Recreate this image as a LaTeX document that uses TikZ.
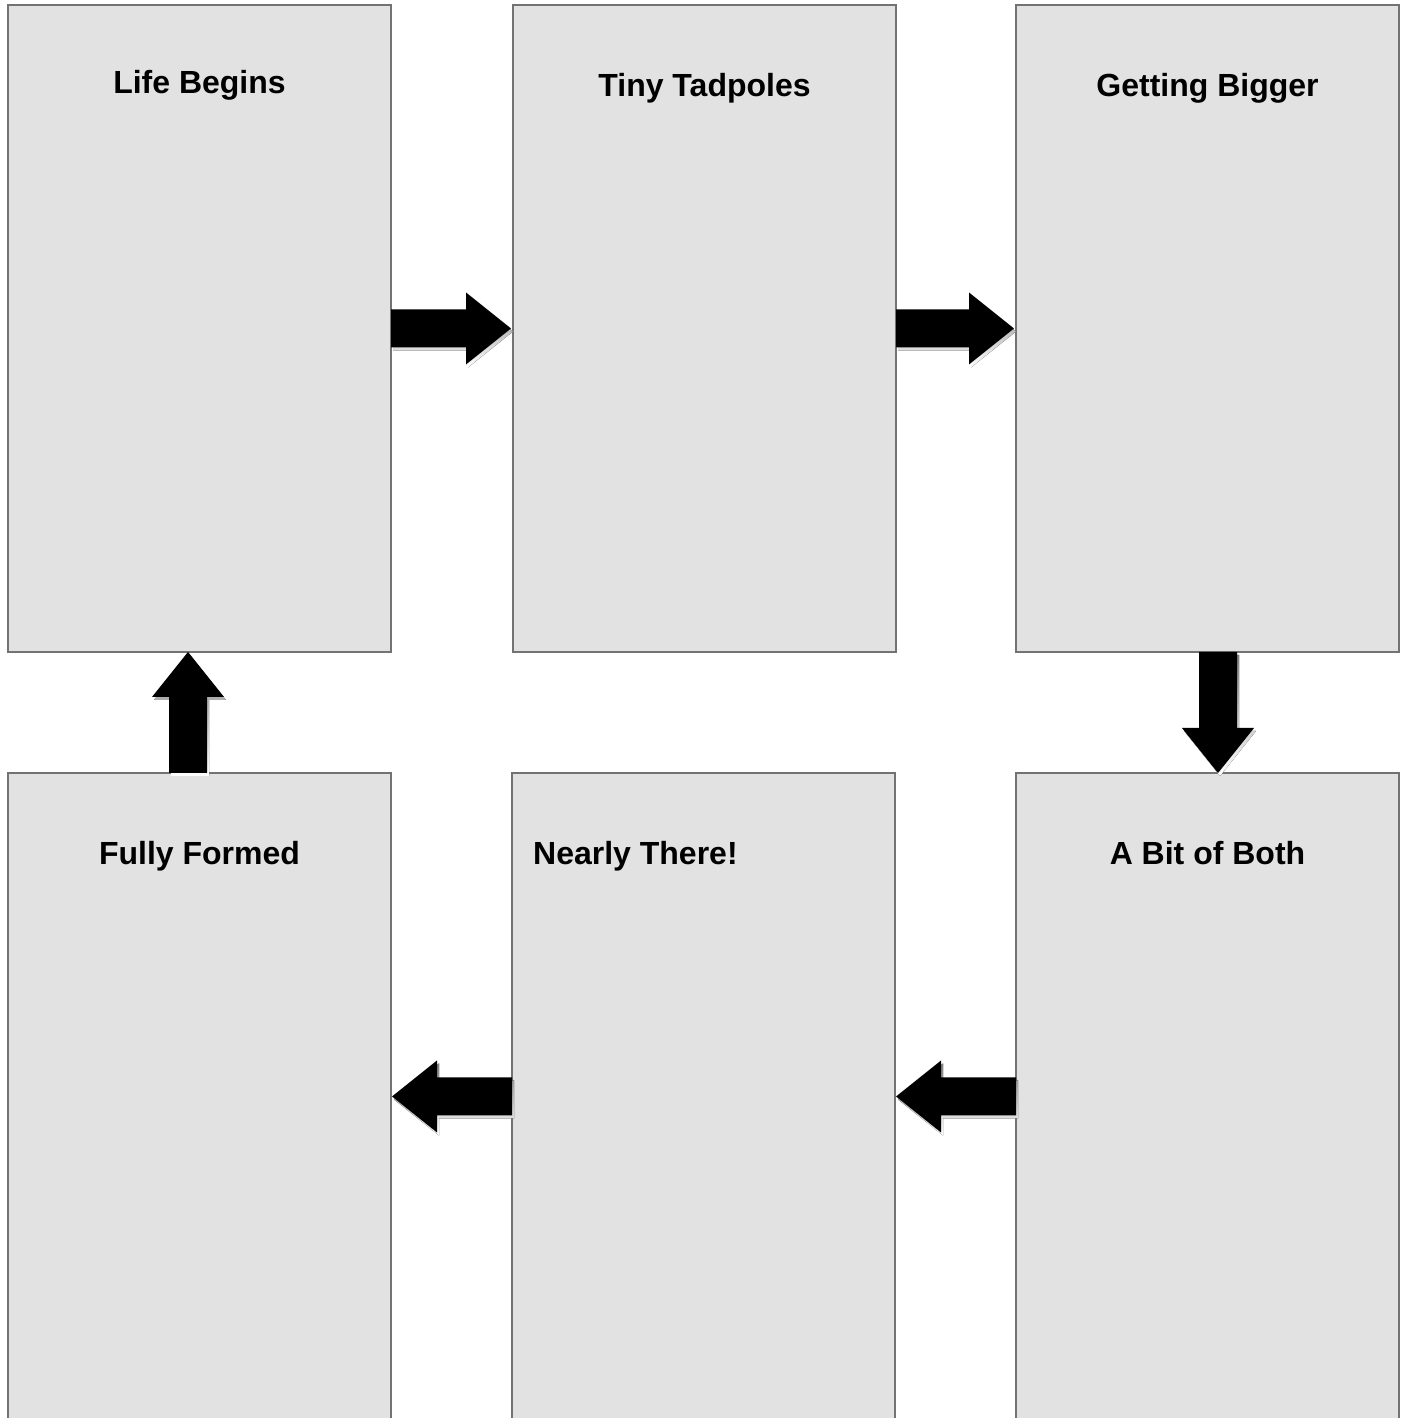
\documentclass[tikz,border=0pt]{standalone}
\usepackage{fontspec}
\setmainfont{Liberation Sans}
\usetikzlibrary{calc}
\definecolor{boxfill}{HTML}{E2E2E2}
\definecolor{boxline}{HTML}{737373}
\definecolor{shade}{HTML}{C4C4C4}
\tikzset{
  stage/.style={draw=boxline, line width=1.6pt, fill=boxfill, minimum width=383pt, minimum height=647pt, inner sep=0pt, outer sep=0pt, anchor=north west},
  stagetitle/.style={font=\fontsize{32}{36}\selectfont\bfseries, inner sep=0pt, anchor=base},
}
% fat block arrow from #1 to #2
\newcommand\fatarrow[2]{%
  \coordinate (fa-s) at (#1);
  \coordinate (fa-e) at (#2);
  \coordinate (fa-h) at ($(fa-e)!45pt!(fa-s)$);
  \foreach \col/\dx/\dy in {shade/2pt/-3pt, black/0pt/0pt}{
    \begin{scope}[transform canvas={xshift=\dx, yshift=\dy}]
    \fill[\col] ($(fa-s)!19pt!90:(fa-e)$) -- ($(fa-h)!19pt!90:(fa-e)$) -- ($(fa-h)!36pt!90:(fa-e)$) -- (fa-e)
      -- ($(fa-h)!36pt!-90:(fa-e)$) -- ($(fa-h)!19pt!-90:(fa-e)$) -- ($(fa-s)!19pt!-90:(fa-e)$) -- cycle;
    \end{scope}
  }%
}
\begin{document}
\begin{tikzpicture}[x=1pt,y=1pt]
\useasboundingbox (0,0) rectangle (1406,1418);
\begin{scope}
\clip (0,0) rectangle (1406,1418);
\node[stage] (b1) at (8,1413) {};
\node[stage] (b2) at (513,1413) {};
\node[stage] (b3) at (1016,1413) {};
\node[stage] (b4) at (8,645) {};
\node[stage] (b5) at (512,645) {};
\node[stage] (b6) at (1016,645) {};
\end{scope}
\node[stagetitle] (t1) at ([yshift=-89pt]b1.north) {Life Begins};
\node[stagetitle] (t2) at ([yshift=-92pt]b2.north) {Tiny Tadpoles};
\node[stagetitle] (t3) at ([yshift=-92pt]b3.north) {Getting Bigger};
\node[stagetitle] (t4) at ([yshift=-92pt]b4.north) {Fully Formed};
\node[stagetitle, anchor=base west] (t5) at ([xshift=21pt,yshift=-92pt]b5.north west) {Nearly There!};
\node[stagetitle] (t6) at ([yshift=-92pt]b6.north) {A Bit of Both};
\fatarrow{b1.east}{[xshift=-2pt]b2.west}
\fatarrow{b2.east}{[xshift=-2pt]b3.west}
\fatarrow{[xshift=10.5pt]b3.south}{[xshift=10.5pt]b6.north}
\fatarrow{b6.west}{[xshift=1pt]b5.east}
\fatarrow{b5.west}{[xshift=1pt]b4.east}
\fatarrow{[xshift=-11.5pt]b4.north}{[xshift=-11.5pt]b1.south}
\end{tikzpicture}
\end{document}
